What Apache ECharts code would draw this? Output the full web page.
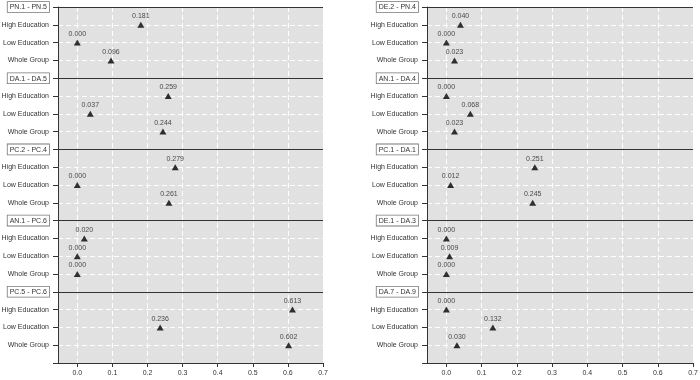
<!DOCTYPE html>
<html>
<head>
<meta charset="utf-8">
<script src="https://cdn.jsdelivr.net/npm/echarts@6/dist/echarts.min.js"></script>
<style>
  html, body { margin: 0; padding: 0; background: #fff; }
  #chart { width: 700px; height: 380px; }
</style>
</head>
<body>
<div id="chart"></div>
<script>
// rows inside every block
var rows = ['High Education', 'Low Education', 'Whole Group'];

// left column blocks
var leftGroups = ['PN.1 - PN.5', 'DA.1 - DA.5', 'PC.2 - PC.4', 'AN.1 - PC.6', 'PC.5 - PC.6'];
var leftValues = [
  [0.181, 0.000, 0.096],
  [0.259, 0.037, 0.244],
  [0.279, 0.000, 0.261],
  [0.020, 0.000, 0.000],
  [0.613, 0.236, 0.602]
];

// right column blocks
var rightGroups = ['DE.2 - PN.4', 'AN.1 - DA.4', 'PC.1 - DA.1', 'DE.1 - DA.3', 'DA.7 - DA.9'];
var rightValues = [
  [0.040, 0.000, 0.023],
  [0.000, 0.068, 0.023],
  [0.251, 0.012, 0.245],
  [0.000, 0.009, 0.000],
  [0.000, 0.132, 0.030]
];

var xTicks = [0, 0.1, 0.2, 0.3, 0.4, 0.5, 0.6, 0.7];

var font = 'Arial, "Liberation Sans", sans-serif';
var fs = 7;
var slot = rows.length + 1;   // one separator + three rows per block
var yMax = leftGroups.length * slot;

function yLabels(groups) {
  return function (v) {
    if (v % slot === 0) {
      var g = groups[v / slot];
      return g ? '{box|' + g + '}' : '';
    }
    return rows[(v % slot) - 1];
  };
}

function toPoints(values) {
  var pts = [];
  values.forEach(function (block, g) {
    block.forEach(function (val, r) {
      pts.push([val, g * slot + r + 1]);
    });
  });
  return pts;
}

function separators(groups) {
  return groups.map(function (_, g) { return { yAxis: g * slot }; });
}

function xAxisOf(idx) {
  return {
    type: 'value', gridIndex: idx, min: -0.055, max: 0.7,
    axisLine: { show: true, onZero: false, lineStyle: { color: '#333', width: 1 } },
    axisTick: { show: true, length: 4, customValues: xTicks, lineStyle: { color: '#333' } },
    axisLabel: {
      customValues: xTicks, margin: 7, fontSize: fs, color: '#333', fontFamily: font,
      formatter: function (v) { return v.toFixed(1); }
    },
    splitLine: { show: true, lineStyle: { color: '#fff', type: [5, 3], width: 1 } }
  };
}

function yAxisOf(idx, groups) {
  return {
    type: 'value', gridIndex: idx, min: 0, max: yMax, interval: 1, inverse: true,
    axisLine: { show: true, onZero: false, lineStyle: { color: '#333', width: 1 } },
    axisTick: { show: true, length: 5, lineStyle: { color: '#333' } },
    axisLabel: {
      margin: 9, fontSize: fs, color: '#333', fontFamily: font,
      formatter: yLabels(groups),
      rich: {
        box: {
          fontSize: fs, color: '#333', fontFamily: font,
          backgroundColor: '#fff', borderColor: '#777', borderWidth: 0.8,
          padding: [2, 2, 1, 2]
        }
      }
    },
    splitLine: { show: true, lineStyle: { color: '#fff', type: [5, 3], width: 1 } }
  };
}

function seriesOf(idx, values, groups) {
  return {
    type: 'scatter', xAxisIndex: idx, yAxisIndex: idx,
    symbol: 'triangle', symbolSize: [7, 6],
    itemStyle: { color: '#000' },
    label: {
      show: true, position: 'top', distance: 2, fontSize: fs, color: '#222', fontFamily: font,
      formatter: function (p) { return p.value[0].toFixed(3); }
    },
    data: toPoints(values),
    markLine: {
      silent: true, symbol: 'none', label: { show: false },
      lineStyle: { color: '#333', type: 'solid', width: 1.2 },
      data: separators(groups)
    }
  };
}

var chart = echarts.init(document.getElementById('chart'));
chart.setOption({
  animation: false,
  grid: [
    { left: 58, top: 7, width: 265, height: 356, show: true, backgroundColor: '#e1e1e1', borderWidth: 0, outerBoundsMode: 'none', containLabel: false },
    { left: 427, top: 7, width: 266, height: 356, show: true, backgroundColor: '#e1e1e1', borderWidth: 0, outerBoundsMode: 'none', containLabel: false }
  ],
  xAxis: [xAxisOf(0), xAxisOf(1)],
  yAxis: [yAxisOf(0, leftGroups), yAxisOf(1, rightGroups)],
  series: [seriesOf(0, leftValues, leftGroups), seriesOf(1, rightValues, rightGroups)]
});
</script>
</body>
</html>
